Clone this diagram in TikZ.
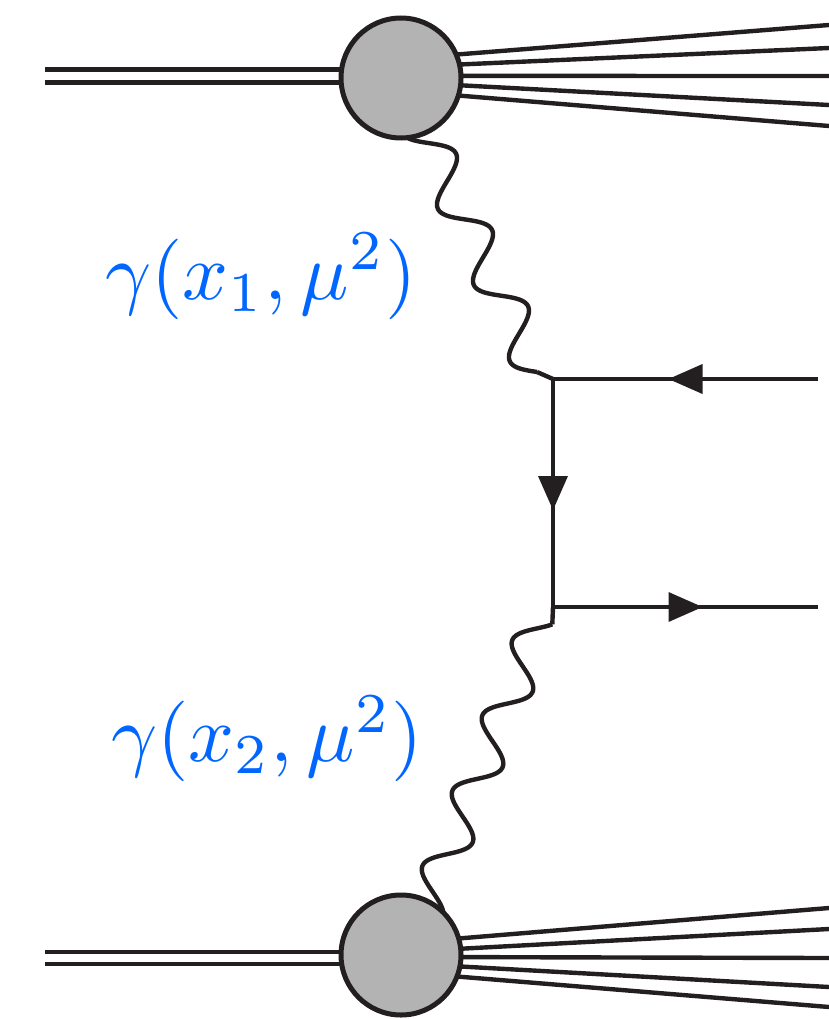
\documentclass[tikz,border=0pt]{standalone}
\usetikzlibrary{decorations.markings}
\definecolor{ink}{RGB}{35,31,32}
\definecolor{lblue}{RGB}{0,102,255}
\definecolor{blobgray}{RGB}{179,179,179}
\pgfdeclarelayer{bg}
\pgfsetlayers{bg,main}
\begin{document}
\begin{tikzpicture}[x=1pt,y=-1pt,
  line/.style={draw=ink, line width=4.4pt},
  blob/.style={circle, draw=ink, line width=5pt, fill=blobgray, minimum size=120pt, inner sep=0pt, outer sep=0pt},
  photon/.style={draw=ink, line width=4.4pt, line join=round},
  fermion/.style={line, postaction={decorate}, decoration={markings, mark=at position 0.5 with {\fill[ink] (17pt,0pt) -- (-17pt,15pt) -- (-17pt,-15pt) -- cycle;}}},
  lab/.style={text=lblue, scale=8.05, inner sep=0pt, anchor=base}]
\useasboundingbox (0,0) rectangle (829,1019);

% blobs
\node[blob] (b1) at (401,78) {};
\node[blob] (b2) at (401,955) {};

% vertices and fermion ends
\coordinate (v1) at (553,379);
\coordinate (v2) at (553,607);
\coordinate (q1) at (818,379);
\coordinate (q2) at (818,607);
\coordinate (E1) at (537,372);
\coordinate (a2) at (552.3,624.4);
\coordinate (S1) at (411,105);
\coordinate (O2) at (540.8,619.8);

% incoming beams
\coordinate (in1a) at (45,69.5);
\coordinate (in1b) at (45,82.5);
\coordinate (in2a) at (45,952);
\coordinate (in2b) at (45,964);

% outgoing remnants
\coordinate (o11) at (829,25);
\coordinate (o12) at (829,48);
\coordinate (o13) at (829,76);
\coordinate (o14) at (829,105);
\coordinate (o15) at (829,126);
\coordinate (o21) at (829,908);
\coordinate (o22) at (829,929);
\coordinate (o23) at (829,958);
\coordinate (o24) at (829,987);
\coordinate (o25) at (829,1007);

\begin{pgfonlayer}{bg}
  \draw[line] (in1a) -- (in1a -| b1.center);
  \draw[line] (in1b) -- (in1b -| b1.center);
  \draw[line] (in2a) -- (in2a -| b2.center);
  \draw[line] (in2b) -- (in2b -| b2.center);
  \draw[line] (b1.23) -- (o11);
  \draw[line] (b1.13.6) -- (o12);
  \draw[line] (b1.2) -- (o13);
  \draw[line] (b1.-7.4) -- (o14);
  \draw[line] (b1.-17.8) -- (o15);
  \draw[line] (b2.16.4) -- (o21);
  \draw[line] (b2.6.2) -- (o22);
  \draw[line] (b2.-2.8) -- (o23);
  \draw[line] (b2.-11.8) -- (o24);
  \draw[line] (b2.-21.3) -- (o25);
  % photon 1
  \begin{scope}[shift={(S1)}, rotate=-64.74]
    \draw[photon] plot[domain=0:295.2, samples=200, smooth] (\x, {20*sin(4.26829*\x)});
  \end{scope}
  % photon 2
  \begin{scope}[shift={(O2)}, rotate=-111.7]
    \draw[photon] plot[domain=0:364.2, samples=240, smooth] (\x, {19*cos(4.44444*(\x-29.4))});
  \end{scope}
\end{pgfonlayer}

\draw[line] (E1) -- (v1);
\draw[line] (v2) -- (a2);
\draw[fermion] (q1) -- (v1);
\draw[fermion] (v1) -- (v2);
\draw[fermion] (v2) -- (q2);

\node[lab] (l1) at (261,299) {$\gamma(x_1,\mu^2)$};
\node[lab] (l2) at (267,761.5) {$\gamma(x_2,\mu^2)$};
\end{tikzpicture}
\end{document}
